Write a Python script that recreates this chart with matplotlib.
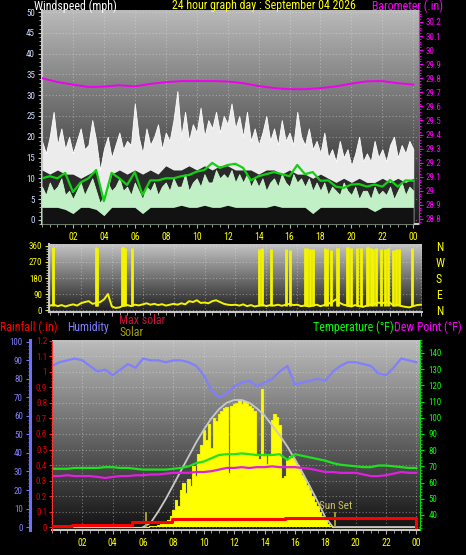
import numpy as np
import matplotlib
matplotlib.use("Agg")
import matplotlib.pyplot as plt
from matplotlib import font_manager
from matplotlib.colors import LinearSegmentedColormap
from matplotlib.ticker import MultipleLocator, FuncFormatter

# ---- data ----
# wind, 15 minute readings 00:00 .. 24:00 (mph)
gust_max = [19, 16, 20, 26, 18, 22, 17, 20, 16, 19, 22, 17, 18, 24, 19, 12,
            17, 20, 15, 18, 21, 17, 19, 18, 28, 20, 16, 22, 18, 20, 23, 17,
            21, 19, 24, 31, 20, 26, 19, 23, 21, 27, 20, 24, 22, 26, 21, 25,
            23, 28, 22, 25, 20, 26, 19, 22, 18, 21, 25, 19, 22, 18, 24, 19,
            21, 18, 26, 20, 18, 22, 17, 19, 16, 21, 15, 17, 14, 19, 15, 17,
            13, 16, 20, 14, 16, 14, 19, 15, 17, 14, 18, 20, 15, 18, 16, 19, 17]
wind_max = [8, 6, 9, 7, 8, 10, 6, 7, 5, 7, 9, 6, 8, 10, 7, 4,
            6, 9, 7, 8, 10, 7, 8, 6, 9, 7, 5, 8, 7, 9, 6, 8,
            9, 7, 10, 8, 8, 11, 7, 9, 10, 8, 11, 9, 9, 12, 10, 11,
            10, 12, 9, 11, 9, 11, 8, 10, 8, 10, 7, 9, 10, 8, 11, 9,
            8, 11, 9, 10, 8, 10, 7, 9, 7, 9, 6, 8, 7, 6, 9, 7,
            6, 8, 5, 7, 7, 5, 8, 6, 7, 6, 8, 5, 7, 9, 6, 8, 7]
# 30 minute readings
gust_min = [12, 11, 12, 11, 11, 10, 11, 12, 3, 11, 12, 11, 12, 11, 12, 11,
            13, 12, 12, 13, 12, 13, 12, 13, 13, 12, 12, 12, 11, 12, 12, 11,
            12, 11, 11, 10, 11, 10, 9, 10, 9, 10, 9, 9, 10, 9, 10, 9, 10]
wind_min = [3, 3, 3, 2.5, 1.5, 3, 3, 2.5, 1, 3, 3, 3, 3, 1.5, 3, 3,
            3, 3, 3.5, 3, 3, 3.5, 3, 3, 3.5, 3, 3, 3, 3, 3, 3.5, 3,
            3, 3, 3, 1.5, 3, 3, 3, 3, 3, 3, 3, 2, 3, 3, 3, 3, 3]
wind_avg = [10, 10.5, 10, 11.3, 6.7, 9, 10, 12, 4.5, 11.3, 10, 8.4, 11.5, 6,
            9.5, 9.5, 10, 10, 10.5, 10.8, 11.6, 12, 13.7, 12.5, 13.2, 13.5,
            12.5, 9.5, 10.5, 11, 11.5, 11, 10.5, 13.2, 11, 11.5, 9.4, 9.5, 8,
            7.7, 8.5, 8.6, 8, 8.5, 8, 9.6, 8, 9.5, 9.4]
# barometer, hourly (in)
baro = [29.80, 29.773, 29.755, 29.738, 29.74, 29.75, 29.742, 29.76, 29.772,
        29.78, 29.78, 29.78, 29.777, 29.765, 29.745, 29.73, 29.722, 29.722,
        29.73, 29.742, 29.762, 29.778, 29.78, 29.765, 29.755]

# wind direction, 15 minute readings (deg) + short swings through north
wdir = [25, 30, 22, 28, 20, 27, 32, 25, 38, 45, 50, 35, 40, 45, 60, 90,
        20, 12, 15, 25, 28, 22, 30, 26, 32, 38, 30, 35, 28, 33, 25, 30,
        35, 30, 38, 32, 50, 45, 55, 40, 42, 38, 50, 55, 45, 35, 30, 28,
        30, 25, 32, 22, 28, 20, 25, 30, 22, 28, 25, 30, 24, 30, 35, 28,
        30, 22, 26, 20, 25, 30, 22, 28, 35, 45, 60, 40, 30, 25, 20, 28,
        22, 18, 25, 30, 35, 42, 38, 45, 40, 25, 30, 22, 18, 15, 22, 28, 30]
swing_hour = [0.2, 2.95, 3.05, 4.65, 4.75, 4.85, 5.3, 13.5, 13.7, 14.3, 15.3,
              15.5, 16.5, 16.6, 16.8, 17.0, 17.8, 17.95, 18.2, 18.55, 18.65,
              19.2, 19.3, 19.45, 19.85, 20.1, 20.5, 20.6, 20.75, 20.9, 21.1,
              21.4, 21.7, 21.85, 22.2, 22.4, 22.6, 23.4]
swing_deg = [355, 355, 350, 355, 355, 350, 350, 345, 350, 345, 345,
             340, 350, 350, 345, 345, 350, 345, 340, 350, 350,
             355, 355, 350, 350, 350, 355, 355, 350, 345, 350,
             345, 345, 350, 340, 345, 345, 350]

# 30 minute readings
humidity = [87, 89, 90, 91, 90, 87, 84, 85, 82, 85, 88, 86, 91, 90, 90, 89,
            90, 90, 89, 87, 82, 74, 70, 72, 76, 78, 79, 76, 78, 80, 84, 87,
            77, 78, 79, 80, 79, 84, 87, 89, 89, 88, 87, 83, 82, 86, 91, 90, 89]
temperature = [68.5, 68.5, 68.5, 69, 69, 69, 69, 69.5, 69.5, 69, 69, 68.5, 68,
               68, 68, 68, 68.5, 69, 70, 72, 73, 75, 77, 77.5, 77.5, 78, 77.5,
               77, 77, 77, 77.5, 74, 77.5, 76.5, 75.5, 74.5, 73.5, 72, 71, 70.5,
               70, 69.5, 69.5, 70.5, 70.5, 70, 69.5, 69, 69]
dewpoint = [64, 64, 64.5, 64, 64, 64, 63.5, 62.8, 63.5, 64, 64, 64.5, 64.5, 65,
            65, 65.5, 66, 66, 66, 66.5, 66.5, 67, 68, 69, 69, 69.5, 69, 69.5,
            69.5, 70, 69.5, 69.5, 69.5, 69, 68.5, 67.5, 66.5, 66.5, 66, 66, 66,
            65, 64, 64, 64.5, 65.5, 66.5, 66, 66]
# rain total (in), value holds from each time on
rain_hour = [0, 1.35, 5.3, 7.9, 15.35, 24.0]
rain_in = [0.005, 0.012, 0.03, 0.05, 0.056, 0.0]

# solar (W/m2), 10 minute readings 06:00 .. 18:30
solar_day = [0, 0, 2, 4, 6, 8, 12, 18, 25, 35, 50, 80,
             120, 190, 150, 260, 310, 240, 340, 290, 430, 360, 520, 580,
             690, 620, 730, 560, 770, 750, 800, 820, 840, 850, 380, 860,
             870, 880, 900, 870, 890, 880, 860, 840, 820, 520, 480, 980,
             500, 450, 520, 760, 800, 780, 720, 350, 360, 480, 500, 490,
             470, 440, 410, 370, 340, 300, 260, 220, 180, 150, 110, 80,
             50, 25, 8, 0]
# max solar, 30 minute steps 06:00 .. 18:30
max_solar = [0, 30, 110, 200, 300, 400, 500, 600, 690, 770, 835, 880, 900,
             900, 880, 840, 790, 720, 650, 570, 480, 385, 285, 180, 70, 0]
sunrise, sunset = 6.2, 18.65

t15 = np.arange(len(gust_max)) * 0.25
t30 = np.arange(len(gust_min)) * 0.5
t60 = np.arange(len(baro)) * 1.0
t_solar = np.concatenate([[0.0], 6.0 + np.arange(len(solar_day)) / 6.0, [24.0]])
solar = [0] + solar_day + [0]
t_max = np.concatenate([6.0 + np.arange(len(max_solar)) * 0.5, [24.0]])
max_solar_line = max_solar + [0]
hours = np.arange(2, 25, 2)
hour_labels = [f"{h % 24:02d}" for h in hours]

# ---- fonts / figure ----
names = {f.name for f in font_manager.fontManager.ttflist}
narrow = [n for n in ("Liberation Sans Narrow", "DejaVu Sans Condensed", "Roboto Condensed")
          if n in names]
if narrow:
    FONT, TXT, TCK, XT = narrow[0], 8.6, 6.5, 7
else:
    FONT, TXT, TCK, XT = "Liberation Sans", 7.3, 6, 6.5
plt.rcParams["font.family"] = [FONT, "DejaVu Sans"]

W, H = 466, 555
fig = plt.figure(figsize=(W / 100, H / 100), dpi=100, facecolor="black")


def rect(l, t, r, b):
    return [l / W, 1 - b / H, (r - l) / W, (b - t) / H]


def shade(ax, lo, hi):
    cmap = LinearSegmentedColormap.from_list("panel", [lo, hi])
    x0, x1 = ax.get_xlim()
    y0, y1 = ax.get_ylim()
    ax.imshow(np.linspace(0, 1, 256).reshape(-1, 1), cmap=cmap, origin="lower",
              aspect="auto", extent=[x0, x1, y0, y1], zorder=0)


def dotted_grid(ax):
    ax.grid(True, color="#e8e8e8", alpha=0.4, linestyle=(0, (1, 2)), lw=0.8)


def hour_axis(ax, show_labels=True):
    ax.set_xticks(hours)
    ax.set_xticklabels(hour_labels if show_labels else [])
    ax.xaxis.set_minor_locator(MultipleLocator(0.5))
    ax.tick_params(axis="x", which="both", colors="#b0b0b0", labelcolor="#ffff00",
                   labelsize=XT, length=3, pad=2.5)
    ax.tick_params(axis="x", which="minor", length=2)


gfmt = FuncFormatter(lambda v, p: f"{round(v, 1):g}")

# ---- top: wind speed and barometer ----
ax1 = fig.add_axes(rect(42, 10, 419, 224))
ax1.set_facecolor("black")
ax1.set_xlim(0, 24.37)
ax1.set_ylim(-1, 50.5)
shade(ax1, "#161616", "#bababa")
dotted_grid(ax1)
ax1.fill_between(t15, -1, gust_max, color="#ececec", lw=0.6, edgecolor="white", zorder=2)
ax1.fill_between(t30, -1, gust_min, color="#2a2a2a", lw=0, zorder=3)
ax1.fill_between(t15, -1, wind_max, color="#c2f0c6", lw=0.5, edgecolor="#d8ffd8", zorder=4)
ax1.fill_between(t30, -1, wind_min, color="#121212", lw=0, zorder=5)
ax1.plot(t30, wind_avg, color="#12d012", lw=1.6, zorder=6)
ax1.yaxis.set_major_locator(MultipleLocator(5))
ax1.yaxis.set_minor_locator(MultipleLocator(1))
ax1.tick_params(axis="y", which="both", colors="#c8c8c8", labelcolor="#cfdcff",
                labelsize=TCK, length=3, pad=2)
ax1.tick_params(axis="y", which="minor", length=2)
hour_axis(ax1)
for s in ("top", "right"):
    ax1.spines[s].set_visible(False)
for s in ("left", "bottom"):
    ax1.spines[s].set_color("#c8c8c8")
    ax1.spines[s].set_linewidth(1.5)

ax1b = ax1.twinx()
ax1b.set_ylim(28.764, 30.285)
ax1b.plot(t60, baro, color="#f000f0", lw=1.4, zorder=7)
ax1b.set_yticks(np.arange(28.8, 30.25, 0.1))
ax1b.yaxis.set_major_formatter(gfmt)
ax1b.yaxis.set_minor_locator(MultipleLocator(0.02))
ax1b.tick_params(axis="y", which="both", colors="#ff00ff", labelsize=TCK, length=3, pad=2)
ax1b.tick_params(axis="y", which="minor", length=1.5)
for s in ("top", "left", "bottom"):
    ax1b.spines[s].set_visible(False)
ax1b.spines["right"].set_color("#ff00ff")

# ---- middle: wind direction ----
ax2 = fig.add_axes(rect(49, 244, 422, 312))
ax2.set_facecolor("black")
ax2.set_xlim(-0.065, 24.07)
ax2.set_ylim(-11, 371)
shade(ax2, "#1c1c1c", "#c4c4c4")
ax2.set_yticks([0, 90, 180, 270, 360])
ax2.yaxis.set_minor_locator(MultipleLocator(15))
dotted_grid(ax2)
ax2.vlines(swing_hour, 20, swing_deg, color="#f4f400", lw=2.0, zorder=3)
ax2.plot(t15, wdir, color="#f4f400", lw=1.4, zorder=4)
ax2.tick_params(axis="y", which="both", colors="#e8e800", labelcolor="#ffff00",
                labelsize=TCK, length=3, pad=2)
ax2.tick_params(axis="y", which="minor", length=2)
hour_axis(ax2, show_labels=False)
for s in ("top", "right"):
    ax2.spines[s].set_visible(False)
for s in ("left", "bottom"):
    ax2.spines[s].set_color("#c8c8c8")
    ax2.spines[s].set_linewidth(1.5)
ax2r = ax2.twinx()
ax2r.set_ylim(-11, 371)
ax2r.set_yticks([0, 90, 180, 270, 360])
ax2r.set_yticklabels(["N", "E", "S", "W", "N"])
ax2r.tick_params(axis="y", length=0, pad=10, labelcolor="#ffff00", labelsize=TXT)
for s in ax2r.spines.values():
    s.set_visible(False)

# ---- bottom: rain, humidity, solar, temperature ----
R3 = rect(52, 340, 420, 530)
XL = (0, 24.24)
RAIN_LIM = (-0.019, 1.206)

axb = fig.add_axes(R3, label="back")
axb.set_facecolor("black")
axb.set_xlim(*XL)
axb.set_ylim(*RAIN_LIM)
shade(axb, "#121212", "#bcbcbc")
axb.set_yticks(np.arange(0, 1.25, 0.1))
dotted_grid(axb)
axb.tick_params(axis="y", left=False, labelleft=False)
hour_axis(axb)
for s in ("top", "right", "left"):
    axb.spines[s].set_visible(False)
axb.spines["bottom"].set_color("#c8c8c8")
axb.spines["bottom"].set_linewidth(1.5)


def overlay(label, ylim):
    ax = fig.add_axes(R3, label=label)
    ax.patch.set_visible(False)
    ax.set_xlim(*XL)
    ax.set_ylim(*ylim)
    ax.xaxis.set_visible(False)
    for s in ax.spines.values():
        s.set_visible(False)
    return ax


ax_sol = overlay("solar", (-21, 1325))
ax_sol.yaxis.set_visible(False)
ax_sol.fill_between(t_solar, 0, solar, step="mid", color="#ffff00", lw=0, zorder=2)
ax_sol.plot(t_solar, solar, drawstyle="steps-mid", color="#f0f000", lw=0.8, zorder=3)
ax_sol.plot(t_max, max_solar_line, color="#c8c8c8", lw=1.3, zorder=4)
ax_sol.vlines([sunrise, sunset], 0, 110, color="#a8a830", lw=1.3, zorder=5)
ax_sol.text(sunset, 150, "Sun Set", color="#c8c060", fontsize=TXT - 0.6, ha="center",
            va="center", zorder=6)

ax_hum = overlay("humidity", (-1.6, 101))
ax_hum.plot(t30, humidity, color="#8080ff", lw=1.6, zorder=3)
ax_hum.spines["left"].set_visible(True)
ax_hum.spines["left"].set_position(("outward", 16))
ax_hum.spines["left"].set_color("#7070ff")
ax_hum.spines["left"].set_linewidth(2.2)
ax_hum.set_yticks(np.arange(0, 101, 10))
ax_hum.yaxis.set_minor_locator(MultipleLocator(2))
ax_hum.tick_params(axis="y", which="both", colors="#7070ff", labelcolor="#8080ff",
                   labelsize=TCK, length=3, pad=2)
ax_hum.tick_params(axis="y", which="minor", length=1.5)

ax_tmp = overlay("temperature", (30.7, 148))
ax_tmp.plot(t30, temperature, color="#20e020", lw=1.6, zorder=3)
ax_tmp.plot(t30, dewpoint, color="#e020e0", lw=1.6, zorder=3)
ax_tmp.yaxis.tick_right()
ax_tmp.spines["right"].set_visible(True)
ax_tmp.spines["right"].set_color("#00e000")
ax_tmp.set_yticks(np.arange(40, 141, 10))
ax_tmp.yaxis.set_minor_locator(MultipleLocator(2))
ax_tmp.tick_params(axis="y", which="both", colors="#00e000", labelcolor="#00ff00",
                   labelsize=TCK, length=3, pad=3)
ax_tmp.tick_params(axis="y", which="minor", length=1.5)

ax_rain = overlay("rain", RAIN_LIM)
ax_rain.plot(rain_hour, rain_in, drawstyle="steps-post", color="#ff0000", lw=2.2, zorder=4)
ax_rain.spines["left"].set_visible(True)
ax_rain.spines["left"].set_color("#ff3030")
ax_rain.spines["left"].set_linestyle((0, (2, 1)))
ax_rain.set_yticks(np.arange(0, 1.25, 0.1))
ax_rain.yaxis.set_major_formatter(gfmt)
ax_rain.yaxis.set_minor_locator(MultipleLocator(0.02))
ax_rain.tick_params(axis="y", which="both", colors="#ff2020", labelcolor="#e00000",
                    labelsize=TCK, length=2.5, pad=1)
ax_rain.tick_params(axis="y", which="minor", length=1)

# ---- headings ----
labels = [
    ("Windspeed (mph)", 34, 6, "#ffffff"),
    ("24 hour graph day : September 04 2026", 172, 6, "#ffff00"),
    ("Barometer (.in)", 372, 6, "#ff00ff"),
    ("Rainfall (.in)", 0, 327, "#ff0000"),
    ("Humidity", 67, 327, "#8080ff"),
    ("Max solar", 119, 320, "#c8143c"),
    ("Solar", 119, 332, "#a0a010"),
    ("Temperature (°F)", 313, 327, "#00ff00"),
    ("Dew Point (°F)", 394, 327, "#ff00ff"),
]
for text, x, y, c in labels:
    fig.text(x / W, 1 - y / H, text, color=c, fontsize=TXT, ha="left", va="center")

fig.savefig("out.png", dpi=100, facecolor="black")
